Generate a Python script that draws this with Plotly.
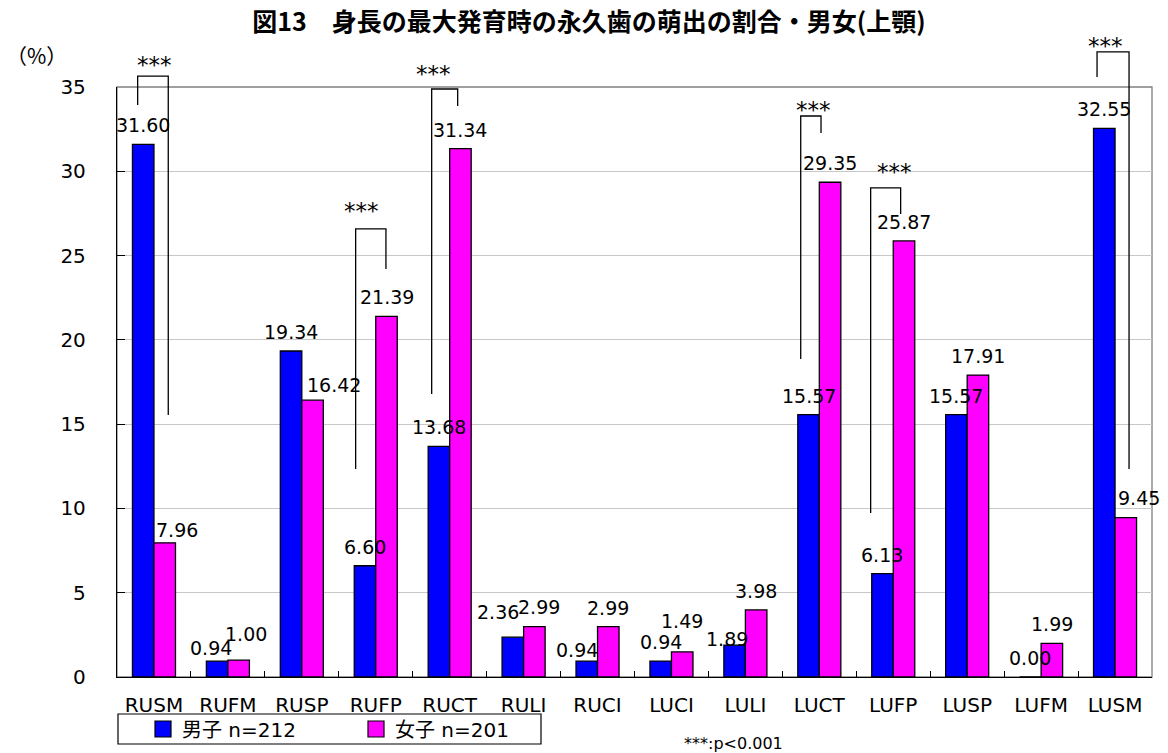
import plotly.graph_objects as go

# ---- data -------------------------------------------------------------
categories = ["RUSM", "RUFM", "RUSP", "RUFP", "RUCT", "RULI", "RUCI",
              "LUCI", "LULI", "LUCT", "LUFP", "LUSP", "LUFM", "LUSM"]
boys = [31.60, 0.94, 19.34, 6.60, 13.68, 2.36, 0.94,
        0.94, 1.89, 15.57, 6.13, 15.57, 0.00, 32.55]
girls = [7.96, 1.00, 16.42, 21.39, 31.34, 2.99, 2.99,
         1.49, 3.98, 29.35, 25.87, 17.91, 1.99, 9.45]
series_names = ["男子 n=212", "女子 n=201"]
y_ticks = [0, 5, 10, 15, 20, 25, 30, 35]
significant = ["RUSM", "RUFP", "RUCT", "LUCT", "LUFP", "LUSM"]

# ---- style ------------------------------------------------------------
W, H = 1168, 753
M_L, M_R, M_T, M_B = 117, 16, 87, 76
PLOT_W = W - M_L - M_R
PLOT_H = H - M_T - M_B
YMAX = 35
BARGAP = 0.418
BAR_OFF = (1 - BARGAP) / 4          # centre of each bar from the category centre
COLORS = ["#0000FF", "#FF00FF"]
NUM_FONT = "DejaVu Sans, Noto Sans CJK JP"
CAT_PX = PLOT_W / len(categories)


def px_x(px):
    """page x pixel -> paper x"""
    return (px - M_L) / PLOT_W


def px_y(py):
    """page y pixel -> paper y"""
    return (H - M_B - py) / PLOT_H


# value-label nudges (px): (dx, dy above bar top)
label_nudge = [
    {"RUFM": (-6, 13), "RULI": (-15, 25), "RUCI": (-10, 11), "LULI": (-8, 6)},
    {"RUSM": (12, 13), "RUFM": (7, 26), "RUSP": (21, 15), "RULI": (5, 20),
     "LUCI": (0, 31), "LUSM": (13.5, 20)},
]
DEFAULT_NUDGE = (0, 19)

# significance brackets: left/right leg offsets (px from category centre),
# top, left-leg bottom, right-leg bottom (in % units), star offset and height
bracket_geom = {
    "RUSM": dict(l=-16.3, r=14.3, top=35.65, lb=33.93, rb=15.54, sx=1, sy=36.55),
    "RUFP": dict(l=-20.1, r=10.2, top=26.58, lb=12.34, rb=24.20, sx=-13.8, sy=27.9),
    "RUCT": dict(l=-18.0, r=8.0, top=34.88, lb=16.79, rb=33.87, sx=-15.7, sy=36.0),
    "LUCT": dict(l=-18.6, r=1.7, top=33.28, lb=18.86, rb=32.27, sx=-5.8, sy=33.85),
    "LUFP": dict(l=-22.6, r=7.4, top=29.01, lb=9.73, rb=27.47, sx=1.7, sy=30.2),
    "LUSM": dict(l=-18.0, r=14.0, top=37.08, lb=35.59, rb=12.34, sx=-10, sy=37.65),
}

fig = go.Figure()
for name, vals, col in zip(series_names, [boys, girls], COLORS):
    fig.add_trace(go.Bar(
        x=categories, y=vals, name=name, showlegend=False,
        marker=dict(color=col, line=dict(color="black", width=1.3)),
    ))

annotations = []
shapes = []

# value labels
for s, vals in enumerate([boys, girls]):
    sign = -1 if s == 0 else 1
    for i, (cat, v) in enumerate(zip(categories, vals)):
        dx, dy = label_nudge[s].get(cat, DEFAULT_NUDGE)
        annotations.append(dict(
            x=i + sign * BAR_OFF, y=v, xref="x", yref="y",
            text=f"{v:.2f}", showarrow=False,
            xanchor="center", yanchor="middle", xshift=dx, yshift=dy,
            font=dict(family=NUM_FONT, size=19, color="black"),
        ))

# significance brackets
for cat in significant:
    g = bracket_geom[cat]
    i = categories.index(cat)
    xl = i + g["l"] / CAT_PX
    xr = i + g["r"] / CAT_PX
    path = (f"M{xl},{g['lb'] / YMAX} L{xl},{g['top'] / YMAX} "
            f"L{xr},{g['top'] / YMAX} L{xr},{g['rb'] / YMAX}")
    shapes.append(dict(type="path", xref="x", yref="paper", path=path,
                       line=dict(color="black", width=1.3), layer="above"))
    annotations.append(dict(
        x=i + g["sx"] / CAT_PX, y=g["sy"] / YMAX, xref="x", yref="paper",
        text="***", showarrow=False, xanchor="center", yanchor="middle",
        yshift=-4,
        font=dict(family=NUM_FONT, size=23, color="black"),
    ))

# plot-area frame (grey top/right edges)
shapes.append(dict(type="rect", xref="paper", yref="paper", x0=0, x1=1, y0=0, y1=1,
                   line=dict(color="#808080", width=1.3), layer="below"))

# legend: frame, swatches and labels
shapes.append(dict(type="rect", xref="paper", yref="paper",
                   x0=px_x(118), x1=px_x(541), y0=px_y(744), y1=px_y(714),
                   line=dict(color="black", width=1.2), fillcolor="white",
                   layer="below"))
legend_items = [(155, 180), (368, 393)]   # swatch left, text left (px)
for (sw_x, tx_x), name, col in zip(legend_items, series_names, COLORS):
    shapes.append(dict(type="rect", xref="paper", yref="paper",
                       x0=px_x(sw_x), x1=px_x(sw_x + 16),
                       y0=px_y(737), y1=px_y(721),
                       line=dict(color="black", width=1.2), fillcolor=col))
    annotations.append(dict(
        xref="paper", yref="paper", x=px_x(tx_x), y=px_y(729.5),
        text=name, showarrow=False, xanchor="left", yanchor="middle",
        font=dict(family=NUM_FONT, size=20, color="black"),
    ))

annotations.append(dict(
    xref="paper", yref="paper", x=px_x(4), y=px_y(55),
    text="（%）", showarrow=False, xanchor="left", yanchor="middle",
    font=dict(family="Noto Sans CJK JP", size=21, color="black"),
))
annotations.append(dict(
    xref="paper", yref="paper", x=px_x(733), y=px_y(743),
    text="***:p<0.001", showarrow=False, xanchor="center", yanchor="middle",
    font=dict(family=NUM_FONT, size=16, color="black"),
))

fig.update_layout(
    width=W, height=H,
    margin=dict(l=M_L, r=M_R, t=M_T, b=M_B, autoexpand=False),
    paper_bgcolor="white", plot_bgcolor="white",
    barmode="group", bargap=BARGAP, bargroupgap=0,
    showlegend=False,
    title=dict(text="<b>図13　身長の最大発育時の永久歯の萌出の割合・男女(上顎)</b>",
               x=589 / W, xanchor="center", y=1 - 22 / H, yanchor="middle",
               font=dict(family="Noto Sans CJK JP", size=25, color="black")),
    xaxis=dict(
        type="category", categoryorder="array", categoryarray=categories,
        range=[-0.5, len(categories) - 0.5],
        showline=True, linecolor="black", linewidth=1.3,
        ticks="inside", tickson="boundaries", ticklen=6, tickcolor="black",
        ticklabelstandoff=10,
        tickfont=dict(family=NUM_FONT, size=20, color="black"),
        showgrid=False, zeroline=False, automargin=False,
    ),
    yaxis=dict(
        range=[0, YMAX], tickvals=y_ticks,
        showline=True, linecolor="black", linewidth=1.3,
        ticks="inside", ticklen=8, tickcolor="black",
        ticklabelstandoff=26,
        tickfont=dict(family=NUM_FONT, size=20, color="black"),
        showgrid=True, gridcolor="#c8c8c8", gridwidth=1, zeroline=False,
        automargin=False,
    ),
    shapes=shapes,
    annotations=annotations,
)

fig.write_html("out.html")
